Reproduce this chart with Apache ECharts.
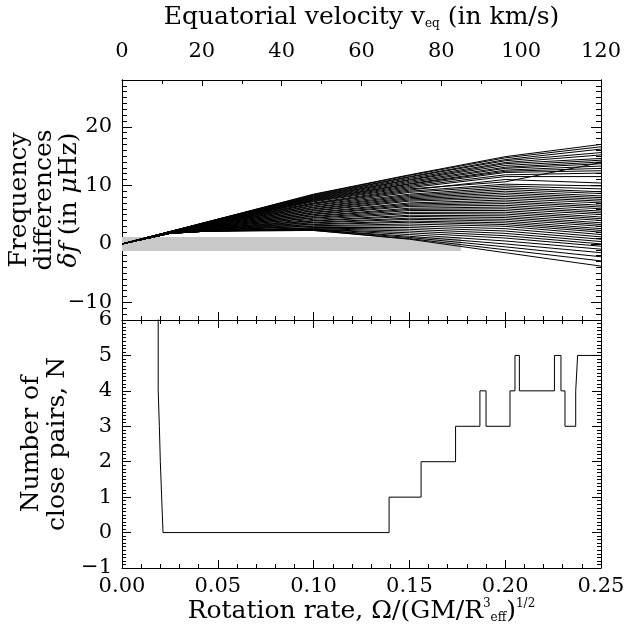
<!DOCTYPE html>
<html><head><meta charset="utf-8">
<script src="https://cdn.jsdelivr.net/npm/echarts@6/dist/echarts.min.js"></script>
<style>html,body{margin:0;padding:0;background:#fff}#c{width:637px;height:635px}</style>
</head><body><div id="c"></div>
<script>
// ---- data ----
const omegaGrid = [0, 0.025, 0.045, 0.10, 0.15, 0.20, 0.25];
const freqLines = [
  [0, 2.1, 3.8, 8.5, 11.8, 14.9, 17.0],
  [0, 2.1, 3.8, 8.4, 11.7, 14.7, 16.6],
  [0, 2.1, 3.8, 8.3, 11.5, 14.4, 16.2],
  [0, 2.1, 3.7, 8.2, 11.4, 14.2, 15.6],
  [0, 2.1, 3.7, 8.1, 11.2, 13.9, 15.2],
  [0, 2.1, 3.7, 8.0, 11.0, 13.7, 14.6],
  [0, 2.1, 3.7, 7.9, 10.9, 13.4, 14.3],
  [0, 2.1, 3.6, 7.8, 10.7, 13.1, 14.0],
  [0, 2.0, 3.6, 7.7, 10.5, 12.9, 13.7],
  [0, 2.0, 3.6, 7.6, 10.3, 12.6, 13.3],
  [0, 2.0, 3.6, 7.5, 10.2, 12.4, 12.9],
  [0, 2.0, 3.5, 7.4, 10.0, 12.2, 12.5],
  [0, 2.0, 3.5, 7.3, 9.8, 11.8, 12.1],
  [0, 2.0, 3.5, 7.2, 9.6, 11.5, 11.5],
  [0, 2.0, 3.5, 7.0, 9.4, 10.6, 13.9],
  [0, 2.0, 3.4, 6.9, 9.2, 11.0, 10.4],
  [0, 2.0, 3.4, 6.8, 9.0, 10.2, 9.9],
  [0, 2.0, 3.4, 6.6, 8.8, 9.9, 9.4],
  [0, 2.0, 3.3, 6.5, 8.5, 9.6, 8.9],
  [0, 2.0, 3.3, 6.3, 8.3, 9.3, 8.6],
  [0, 2.0, 3.3, 6.2, 8.1, 9.0, 8.2],
  [0, 2.0, 3.2, 6.0, 7.9, 8.7, 7.9],
  [0, 1.9, 3.2, 5.9, 7.7, 8.4, 7.6],
  [0, 1.9, 3.1, 5.7, 7.5, 8.1, 7.3],
  [0, 1.9, 3.1, 5.6, 7.3, 7.8, 7.0],
  [0, 1.9, 3.0, 5.4, 7.0, 7.5, 6.6],
  [0, 1.9, 3.0, 5.3, 6.8, 7.2, 6.3],
  [0, 1.9, 2.9, 5.1, 6.6, 6.9, 6.0],
  [0, 1.9, 2.9, 5.0, 6.4, 6.6, 5.6],
  [0, 1.9, 2.8, 4.8, 6.1, 6.3, 5.3],
  [0, 1.9, 2.8, 4.7, 5.9, 6.0, 5.0],
  [0, 1.9, 2.7, 4.5, 5.7, 5.7, 4.6],
  [0, 1.9, 2.7, 4.4, 5.4, 5.4, 4.3],
  [0, 1.9, 2.6, 4.2, 5.2, 5.1, 4.0],
  [0, 1.8, 2.6, 4.0, 4.9, 4.8, 3.6],
  [0, 1.8, 2.5, 3.9, 4.7, 4.5, 3.3],
  [0, 1.8, 2.5, 3.7, 4.4, 4.2, 3.0],
  [0, 1.8, 2.4, 3.6, 4.2, 3.9, 2.6],
  [0, 1.8, 2.4, 3.4, 3.9, 3.6, 2.3],
  [0, 1.8, 2.3, 3.3, 3.7, 3.3, 2.0],
  [0, 1.8, 2.3, 3.1, 3.4, 3.0, 1.6],
  [0, 1.8, 2.3, 3.0, 3.1, 2.6, 1.2],
  [0, 1.8, 2.2, 2.8, 2.8, 2.2, 0.8],
  [0, 1.8, 2.2, 2.7, 2.5, 1.8, 0.4],
  [0, 1.8, 2.2, 2.6, 2.2, 1.4, 0.0],
  [0, 1.8, 2.2, 2.5, 1.9, 1.0, -0.4],
  [0, 1.8, 2.2, 2.5, 1.6, 0.5, -0.9],
  [0, 1.8, 2.2, 2.4, 1.3, 0.0, -1.5],
  [0, 1.8, 2.2, 2.4, 1.1, -0.5, -2.2],
  [0, 1.8, 2.2, 2.3, 0.9, -1.0, -2.9],
  [0, 1.8, 2.2, 2.3, 0.8, -1.5, -3.8]
];
const stepOmega = [0.0, 0.0189, 0.0195, 0.0200, 0.0207, 0.0214, 0.1394, 0.1561, 0.1741, 0.1868, 0.1900, 0.2025, 0.2051, 0.2074, 0.2257, 0.2291, 0.2312, 0.2368, 0.2378, 0.25];
const stepN =     [8,   4,      3,      2,      1,      0,      1,      2,      3,      4,      3,      4,      5,      4,      5,      4,      3,      4,      5,      5];
const bandOmega = [0, 0.177];
const bandDelta = [-1.2, 1.2];
const topYTicks = [-10, 0, 10, 20];
const omegaRange = [0, 0.25];
const velocityRange = [0, 120];
const topYRange = [-13, 28];
const botYRange = [-1, 6];

// ---- chart ----
const FONT = 'DejaVu Serif';
const black = '#000';
const chart = echarts.init(document.getElementById('c'), null, {renderer: 'canvas'});
const line = {lineStyle: {color: black, width: 1}};
const minus = function (v) { return String(v).replace('-', '\u2212'); };
const lbl = {color: black, fontFamily: FONT, fontSize: 21};
function nameStyle(lh) {
  return {
    color: black, fontFamily: FONT, fontSize: 25, lineHeight: lh,
    rich: {
      sub: {fontFamily: FONT, fontSize: 12, verticalAlign: 'bottom', color: black, padding: [11, 0, 0, 0]},
      sup: {fontFamily: FONT, fontSize: 12, verticalAlign: 'top', color: black, padding: [0, 0, 11, 0]},
      it: {fontFamily: FONT, fontSize: 25, fontStyle: 'italic', color: black, lineHeight: lh}
    }
  };
}
const G0 = {left: 122, right: 36, top: 80, height: 240, containLabel: false, outerBoundsMode: 'none'};
const G1 = {left: 122, right: 36, top: 320, height: 248, containLabel: false, outerBoundsMode: 'none'};

function xAx(gi, pos, range, interval, split, showLabel, extra) {
  return Object.assign({
    type: 'value', gridIndex: gi, position: pos, min: range[0], max: range[1], interval: interval,
    axisLine: {show: true, onZero: false, ...line},
    axisTick: {show: true, inside: true, length: 8, ...line},
    minorTick: {show: true, splitNumber: split, length: 4, ...line},
    splitLine: {show: false}, minorSplitLine: {show: false},
    axisLabel: Object.assign({show: showLabel}, lbl)
  }, extra || {});
}
function yAx(gi, pos, range, extra) {
  return Object.assign({
    type: 'value', gridIndex: gi, position: pos, min: range[0], max: range[1],
    axisLine: {show: true, onZero: false, ...line},
    splitLine: {show: false},
    axisLabel: {show: false}
  }, extra);
}

const series = [];
series.push({
  type: 'line', xAxisIndex: 0, yAxisIndex: 0, z: 1, silent: true,
  data: [[omegaGrid[0], 0]], showSymbol: false, lineStyle: {width: 0},
  markArea: {silent: true, itemStyle: {color: '#c8c8c8'},
    data: [[{coord: [bandOmega[0], bandDelta[0]]}, {coord: [bandOmega[1], bandDelta[1]]}]]}
});
freqLines.forEach(function (row) {
  series.push({
    type: 'line', xAxisIndex: 0, yAxisIndex: 0, z: 3, silent: true, showSymbol: false,
    data: row.map(function (v, i) { return [omegaGrid[i], v]; }),
    lineStyle: {color: black, width: 1}
  });
});
series.push({
  type: 'line', xAxisIndex: 2, yAxisIndex: 4, step: 'end', z: 3, silent: true, showSymbol: false,
  data: stepOmega.map(function (x, i) { return [x, stepN[i]]; }),
  lineStyle: {color: black, width: 1}
});

chart.setOption({
  backgroundColor: '#fff',
  animation: false,
  grid: [G0, G1],
  xAxis: [
    xAx(0, 'bottom', omegaRange, 0.05, 5, false),
    xAx(0, 'top', velocityRange, 20, 2, true, {
      axisLabel: Object.assign({show: true, margin: 18}, lbl),
      axisTick: {show: true, inside: true, length: 6, ...line},
      name: 'Equatorial velocity v{sub|eq} (in km/s)', nameLocation: 'middle', nameGap: 50,
      nameTextStyle: nameStyle(26)
    }),
    xAx(1, 'bottom', omegaRange, 0.05, 5, true, {
      axisLabel: Object.assign({show: true, margin: 8, formatter: function (v) { return v.toFixed(2); }}, lbl),
      name: 'Rotation rate, Ω/(GM/R{sup|3}{sub|eff}){sup|1/2}', nameLocation: 'middle', nameGap: 30,
      nameTextStyle: nameStyle(26)
    }),
    xAx(1, 'top', omegaRange, 0.05, 5, false)
  ],
  yAxis: [
    yAx(0, 'left', topYRange, {interval: 1,
      axisTick: {show: true, inside: true, length: 5, ...line},
      name: 'Frequency\ndifferences\n{it|δf} (in {it|μ}Hz)', nameLocation: 'middle', nameRotate: 90, nameGap: 40,
      nameTextStyle: nameStyle(25)}),
    yAx(0, 'left', topYRange, {
      axisTick: {show: true, inside: true, length: 10, customValues: topYTicks, ...line},
      axisLabel: Object.assign({show: true, margin: 10, customValues: topYTicks, formatter: minus}, lbl)}),
    yAx(0, 'right', topYRange, {interval: 1,
      axisTick: {show: true, inside: true, length: 5, ...line}}),
    yAx(0, 'right', topYRange, {
      axisTick: {show: true, inside: true, length: 10, customValues: topYTicks, ...line}}),
    yAx(1, 'left', botYRange, {interval: 1,
      axisTick: {show: true, inside: true, length: 9, ...line},
      minorTick: {show: true, splitNumber: 10, length: 4, ...line},
      axisLabel: Object.assign({show: true, margin: 10, formatter: minus}, lbl),
      name: 'Number of\nclose pairs, N', nameLocation: 'middle', nameRotate: 90, nameGap: 48,
      nameTextStyle: nameStyle(26)}),
    yAx(1, 'right', botYRange, {interval: 1,
      axisTick: {show: true, inside: true, length: 9, ...line},
      minorTick: {show: true, splitNumber: 10, length: 4, ...line}})
  ],
  series: series
});
</script>
</body></html>
